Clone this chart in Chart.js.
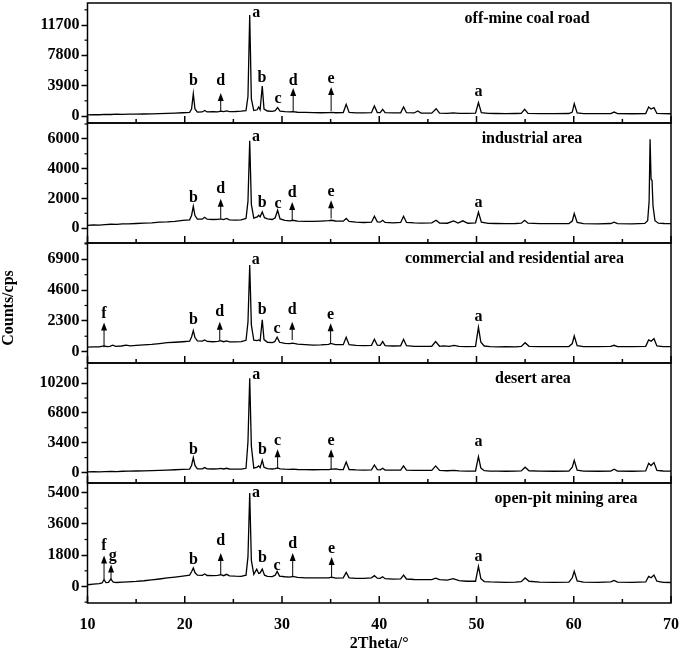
<!DOCTYPE html>
<html>
<head>
<meta charset="utf-8">
<script src="https://cdn.jsdelivr.net/npm/chart.js@4"></script>
<style>
  html, body { margin: 0; padding: 0; background: #fff; }
</style>
</head>
<body>
<canvas id="xrd" width="685" height="655"></canvas>
<script>
// XRD patterns, [2theta, counts]
const coalRoad = [
  [10,150],[10.6,170],[11.2,160],[11.8,210],[12.4,190],[13,230],[13.6,210],[14.2,240],[15,230],[15.8,260],
  [16.6,280],[17.4,300],[18.2,330],[19,370],[19.8,420],[20.5,460],[20.7,900],[20.88,2870],[21.05,900],[21.3,500],
  [21.8,520],[22.05,700],[22.3,520],[22.9,560],[23.4,540],[23.7,620],[24.0,560],[24.3,660],[24.6,560],[25.2,580],
  [25.8,620],[26.3,700],[26.5,2500],[26.68,13000],[26.85,2200],[27.1,700],[27.45,800],[27.6,1150],[27.75,800],[27.97,3860],
  [28.15,900],[28.5,640],[29.0,600],[29.3,680],[29.55,1070],[29.8,640],[30.3,560],[30.8,520],[31.1,560],[31.6,480],
  [32.4,460],[33.2,430],[34,420],[34.8,430],[35.05,470],[35.5,420],[36.3,440],[36.6,1500],[36.9,460],[37.6,400],
  [38.4,390],[39.2,420],[39.5,1290],[39.8,450],[40.1,430],[40.35,860],[40.6,420],[41.4,390],[42.2,400],[42.5,1160],
  [42.8,420],[43.6,390],[43.95,640],[44.3,380],[45.4,370],[45.85,940],[46.2,370],[47,350],[47.6,400],[48.2,340],
  [49,330],[49.9,360],[50.2,1710],[50.5,420],[51.2,340],[52,320],[53,310],[54,320],[54.6,340],[54.95,860],
  [55.3,330],[56.5,310],[58,300],[59.5,320],[59.85,500],[60.05,1580],[60.35,400],[61,310],[62.5,300],[63.8,310],
  [64.15,510],[64.5,300],[66,290],[67.4,320],[67.7,1160],[67.95,900],[68.25,1070],[68.55,330],[69.2,300],[70,290]
];
const industrial = [
  [10,180],[10.6,210],[11.2,200],[11.8,240],[12.4,260],[13,250],[13.6,290],[14.2,280],[15,310],[15.8,340],
  [16.6,360],[17.4,400],[18.2,420],[19,460],[19.8,520],[20.5,560],[20.7,850],[20.88,1470],[21.05,850],[21.3,600],
  [21.8,600],[22.05,730],[22.3,600],[22.9,580],[23.4,590],[23.7,620],[24.0,570],[24.3,650],[24.6,560],[25.2,540],
  [25.8,560],[26.3,650],[26.5,1800],[26.68,5870],[26.85,1600],[27.1,680],[27.45,760],[27.6,870],[27.75,760],[27.97,1090],
  [28.2,700],[28.5,620],[29.0,580],[29.3,700],[29.55,1200],[29.8,620],[30.3,520],[30.8,490],[31.1,530],[31.6,470],
  [32.4,460],[33.2,450],[34,470],[34.8,500],[35.1,530],[35.5,480],[36.3,470],[36.6,650],[36.9,450],[37.6,400],
  [38.4,380],[39.2,400],[39.5,800],[39.8,420],[40.1,400],[40.35,530],[40.6,380],[41.4,360],[42.2,380],[42.5,800],
  [42.8,380],[43.6,350],[44.3,340],[45.4,350],[45.85,530],[46.2,340],[47,330],[47.65,490],[48.1,340],[48.6,490],
  [49.1,330],[49.9,360],[50.2,1070],[50.5,400],[51.2,320],[52,310],[53,300],[54,310],[54.6,330],[54.95,530],
  [55.3,330],[56.5,300],[58,300],[59.5,310],[59.85,480],[60.05,980],[60.35,380],[61,300],[62.5,290],[63.8,310],
  [64.15,400],[64.5,300],[66,290],[67.3,320],[67.6,500],[67.75,1800],[67.85,5980],[67.95,3300],[68.05,3200],[68.15,1500],
  [68.35,500],[68.7,330],[69.3,310],[70,300]
];
const commercial = [
  [10,330],[10.6,360],[11.2,350],[11.7,430],[12.0,370],[12.3,400],[12.6,480],[12.9,400],[13.5,420],[13.96,480],
  [14.4,430],[15,460],[15.8,500],[16.6,540],[17.4,600],[18.2,670],[19,700],[19.8,740],[20.5,780],[20.7,1100],
  [20.88,1570],[21.05,1050],[21.3,800],[21.8,780],[22.05,870],[22.3,760],[22.9,740],[23.4,760],[23.65,820],[24.0,740],
  [24.3,800],[24.6,730],[25.2,730],[25.8,750],[26.3,850],[26.5,2200],[26.68,6480],[26.85,2000],[27.1,850],[27.45,820],
  [27.6,870],[27.75,800],[27.97,2370],[28.15,900],[28.5,700],[29.0,680],[29.25,740],[29.5,1075],[29.75,700],[30.3,620],
  [30.8,600],[31.1,640],[31.6,560],[32.4,520],[33.2,480],[34,500],[34.8,540],[35.0,620],[35.5,520],[36.3,520],
  [36.6,1075],[36.9,520],[37.6,460],[38.4,450],[39.2,470],[39.5,925],[39.8,480],[40.1,470],[40.35,750],[40.6,450],
  [41.4,420],[42.2,430],[42.5,925],[42.8,440],[43.6,400],[44.3,390],[45.4,400],[45.8,750],[46.2,400],[46.6,430],
  [47.2,390],[47.7,470],[48.2,400],[49,380],[49.9,400],[50.2,1820],[50.45,700],[50.8,420],[51.4,380],[52.2,360],
  [53,370],[54,360],[54.6,390],[55.0,670],[55.4,400],[56.5,380],[58,370],[59.5,380],[59.85,600],[60.05,1170],
  [60.35,450],[61,380],[62.5,370],[63.8,390],[64.15,475],[64.5,380],[66,370],[67.4,400],[67.7,870],[67.95,780],
  [68.25,970],[68.55,420],[69.2,380],[70,375]
];
const desert = [
  [10,70],[10.6,90],[11.2,80],[11.8,110],[12.4,120],[13,110],[13.6,140],[14.2,150],[15,170],[15.8,190],
  [16.6,220],[17.4,250],[18.2,280],[19,310],[19.8,350],[20.5,380],[20.7,800],[20.88,1700],[21.05,800],[21.3,420],
  [21.8,420],[22.05,560],[22.3,420],[22.9,400],[23.4,420],[23.7,460],[24.0,400],[24.3,480],[24.6,400],[25.2,380],
  [25.8,390],[26.3,480],[26.5,3500],[26.68,10760],[26.85,3000],[27.1,500],[27.45,620],[27.6,750],[27.75,560],[27.97,1390],
  [28.15,600],[28.5,440],[29.0,400],[29.3,430],[29.55,520],[29.8,420],[30.3,380],[30.8,360],[31.1,380],[31.6,340],
  [32.4,320],[33.2,310],[34,320],[34.8,330],[35.1,380],[35.55,420],[35.9,330],[36.3,340],[36.6,1200],[36.9,340],
  [37.6,290],[38.4,280],[39.2,300],[39.5,860],[39.8,320],[40.1,300],[40.35,480],[40.6,280],[41.4,260],[42.2,270],
  [42.5,750],[42.8,270],[43.6,240],[44.3,230],[45.4,230],[45.8,750],[46.2,230],[47,200],[47.7,250],[48.2,180],
  [49,160],[49.9,170],[50.2,1810],[50.45,500],[50.8,200],[51.4,160],[52.2,150],[53,140],[54,150],[54.6,180],
  [55.0,600],[55.4,200],[56.5,150],[58,140],[59.5,160],[59.85,600],[60.05,1390],[60.35,260],[61,150],[62.5,140],
  [63.8,160],[64.15,370],[64.5,150],[66,140],[67.4,180],[67.7,1050],[67.95,800],[68.25,1130],[68.55,230],[69.2,170],
  [70,160]
];
const openPit = [
  [10,100],[10.6,140],[11.2,160],[11.5,200],[11.7,390],[11.9,220],[12.15,230],[12.4,430],[12.65,250],[13,230],
  [13.6,250],[14.2,270],[15,290],[15.8,330],[16.6,380],[17.4,430],[18.2,490],[19,540],[19.8,600],[20.5,650],
  [20.7,850],[20.88,1060],[21.05,800],[21.3,650],[21.8,640],[22.05,720],[22.3,630],[22.9,620],[23.4,640],[23.7,680],
  [24.0,620],[24.3,700],[24.6,610],[25.2,590],[25.8,580],[26.3,650],[26.5,1700],[26.68,5370],[26.85,1500],[27.1,700],
  [27.4,1000],[27.6,750],[27.75,780],[27.97,1000],[28.2,650],[28.5,580],[29.0,570],[29.3,650],[29.5,870],[29.75,600],
  [30.3,560],[30.8,540],[31.1,580],[31.6,520],[32.4,500],[33.2,490],[34,500],[34.8,490],[35.1,540],[35.5,480],
  [36.3,500],[36.6,810],[36.9,500],[37.6,470],[38.4,470],[39.2,500],[39.5,620],[39.8,480],[40.1,470],[40.35,560],
  [40.6,450],[41.4,420],[42.2,440],[42.5,660],[42.8,430],[43.6,400],[44.3,390],[45.4,390],[45.8,480],[46.2,390],
  [47,370],[47.6,450],[48.2,340],[49,300],[49.9,300],[50.2,1160],[50.45,450],[50.8,280],[51.4,260],[52.2,250],
  [53,240],[54,250],[54.6,280],[55.0,490],[55.4,300],[56.5,250],[58,240],[59.5,250],[59.85,500],[60.05,870],
  [60.35,320],[61,250],[62.5,240],[63.8,260],[64.15,350],[64.5,250],[66,240],[67.4,260],[67.7,580],[67.95,500],
  [68.25,660],[68.55,300],[69.2,240],[70,230]
];

// peak marks: [letter, 2theta, letter counts, arrow from, arrow to, arrow 2theta]
const coalRoadMarks = [
  ['b',20.9,4500],['d',23.7,4500,640,2960],['a',27.35,13250],['b',27.95,4890],
  ['c',29.6,2190],['d',31.15,4500,640,3600],['e',35.05,4760,640,3730],['a',50.2,3090]
];
const industrialMarks = [
  ['b',20.9,2020],['d',23.7,2650,650,1980],['a',27.33,6140],['b',27.97,1690],
  ['c',29.6,1650],['d',31.05,2350,530,1750],['e',35.05,2420,650,1870],['a',50.2,1690]
];
const commercialMarks = [
  ['f',11.7,2820,330,2170],['b',20.9,2370],['d',23.6,2990,870,2240],['a',27.3,6850],['b',27.97,3110],
  ['c',29.5,1670],['d',31.05,3110,870,2240],['e',35.0,2740,625,2120],['a',50.2,2570]
];
const desertMarks = [
  ['b',20.9,2560],['a',27.35,11140],['b',28.0,2640],['c',29.55,3660,450,2640],
  ['e',35.05,3660,370,2640],['a',50.2,3470]
];
const openPitMarks = [
  ['f',11.7,2320,390,1780],['g',12.6,1780,390,1260,12.42],['b',20.9,1510],['d',23.7,2650,680,1930],
  ['a',27.33,5370],['b',28.0,1640],['c',29.5,1160],['d',31.1,2470,540,1930],['e',35.1,2170,480,1700],['a',50.2,1700]
];

const panelNames = ['off-mine coal road', 'industrial area', 'commercial and residential area', 'desert area', 'open-pit mining area'];
const panelSeries = [coalRoad, industrial, commercial, desert, openPit];
const panelMarks = [coalRoadMarks, industrialMarks, commercialMarks, desertMarks, openPitMarks];
const yTicks = [
  [0, 3900, 7800, 11700],
  [0, 2000, 4000, 6000],
  [0, 2300, 4600, 6900],
  [0, 3400, 6800, 10200],
  [0, 1800, 3600, 5400]
];
const yMin = [-900, -1000, -850, -1200, -950];
const yMax = [14530, 7070, 8120, 12500, 5950];
const titleAt = [55.2, 55.7, 53.9, 55.8, 59.2];

const FAMILY = '"Liberation Serif", "Times New Roman", serif';
const font = { family: FAMILY, size: 16, weight: 'bold' };
const fontStr = 'bold 16px ' + FAMILY;

const scales = {
  x: {
    type: 'linear', position: 'bottom', min: 10, max: 70,
    ticks: { stepSize: 10, font: font, color: '#000', padding: 12 },
    grid: { display: false, drawTicks: false },
    border: { display: false },
    title: { display: true, text: '2Theta/°', font: font, color: '#000', padding: { top: 0, bottom: 2 } },
    afterFit(s) { s.height = 52; s.paddingLeft = 0; s.paddingRight = 0; }
  }
};
// stacked left axes: the last one defined ends up on top, so add them bottom-up
for (let i = panelNames.length - 1; i >= 0; i--) {
  scales['y' + i] = {
    type: 'linear', position: 'left', stack: 'xrd', stackWeight: 1,
    min: yMin[i], max: yMax[i],
    afterBuildTicks(s) { s.ticks = yTicks[i].map(v => ({ value: v })); },
    ticks: { font: font, color: '#000', padding: 2, autoSkip: false, callback: v => String(v) },
    grid: { display: true, drawOnChartArea: false, drawTicks: true, tickLength: 6, tickWidth: 1.5, tickColor: '#000', color: '#000' },
    border: { display: false },
    afterFit(s) { s.width = 87.5; s.paddingTop = 0; s.paddingBottom = 0; }
  };
}

const xrdDecor = {
  id: 'xrdDecor',
  afterDatasetsDraw(chart) {
    const ctx = chart.ctx, a = chart.chartArea, xs = chart.scales.x;
    ctx.save();
    ctx.strokeStyle = '#000';
    ctx.fillStyle = '#000';
    panelNames.forEach((name, i) => {
      const ys = chart.scales['y' + i];
      ctx.lineWidth = 1.5;
      ctx.strokeRect(a.left, ys.top, a.right - a.left, ys.bottom - ys.top);
      // inward x ticks on each panel bottom
      for (let v = 10; v <= 70; v += 5) {
        const px = xs.getPixelForValue(v);
        const len = v % 10 === 0 ? 7 : 4;
        ctx.beginPath(); ctx.moveTo(px, ys.bottom); ctx.lineTo(px, ys.bottom - len); ctx.stroke();
      }
      // minor y ticks
      const half = yTicks[i][1] / 2;
      ctx.lineWidth = 1.2;
      for (let v = Math.ceil(yMin[i] / half) * half; v < yMax[i]; v += half) {
        if (yTicks[i].includes(v)) continue;
        const py = ys.getPixelForValue(v);
        ctx.beginPath(); ctx.moveTo(a.left - 3, py); ctx.lineTo(a.left, py); ctx.stroke();
      }
      // peak letters and arrows
      ctx.font = fontStr;
      ctx.textAlign = 'center';
      ctx.textBaseline = 'middle';
      panelMarks[i].forEach(m => {
        ctx.fillText(m[0], xs.getPixelForValue(m[1]), ys.getPixelForValue(m[2]));
        if (m.length > 3) {
          const ax = xs.getPixelForValue(m[5] !== undefined ? m[5] : m[1]);
          const y0 = ys.getPixelForValue(m[3]), y1 = ys.getPixelForValue(m[4]);
          ctx.lineWidth = 1;
          ctx.beginPath(); ctx.moveTo(ax, y0); ctx.lineTo(ax, y1 + 6); ctx.stroke();
          ctx.beginPath(); ctx.moveTo(ax, y1); ctx.lineTo(ax - 3, y1 + 8); ctx.lineTo(ax + 3, y1 + 8); ctx.closePath(); ctx.fill();
        }
      });
      // panel title
      ctx.fillText(name, xs.getPixelForValue(titleAt[i]), ys.top + 16);
    });
    // shared y title
    ctx.translate(9, (a.top + a.bottom) / 2 + 5);
    ctx.rotate(-Math.PI / 2);
    ctx.fillText('Counts/cps', 0, 0);
    ctx.restore();
  }
};

new Chart(document.getElementById('xrd'), {
  type: 'line',
  data: {
    datasets: panelSeries.map((s, i) => ({
      label: panelNames[i],
      data: s.map(p => ({ x: p[0], y: p[1] })),
      yAxisID: 'y' + i,
      xAxisID: 'x',
      borderColor: '#000',
      borderWidth: 1.3,
      pointRadius: 0,
      tension: 0,
      fill: false
    }))
  },
  options: {
    responsive: false,
    animation: false,
    layout: { padding: { top: 3, right: 14, bottom: 0, left: 0 } },
    plugins: { legend: { display: false }, tooltip: { enabled: false } },
    scales: scales
  },
  plugins: [xrdDecor]
});
</script>
</body>
</html>
